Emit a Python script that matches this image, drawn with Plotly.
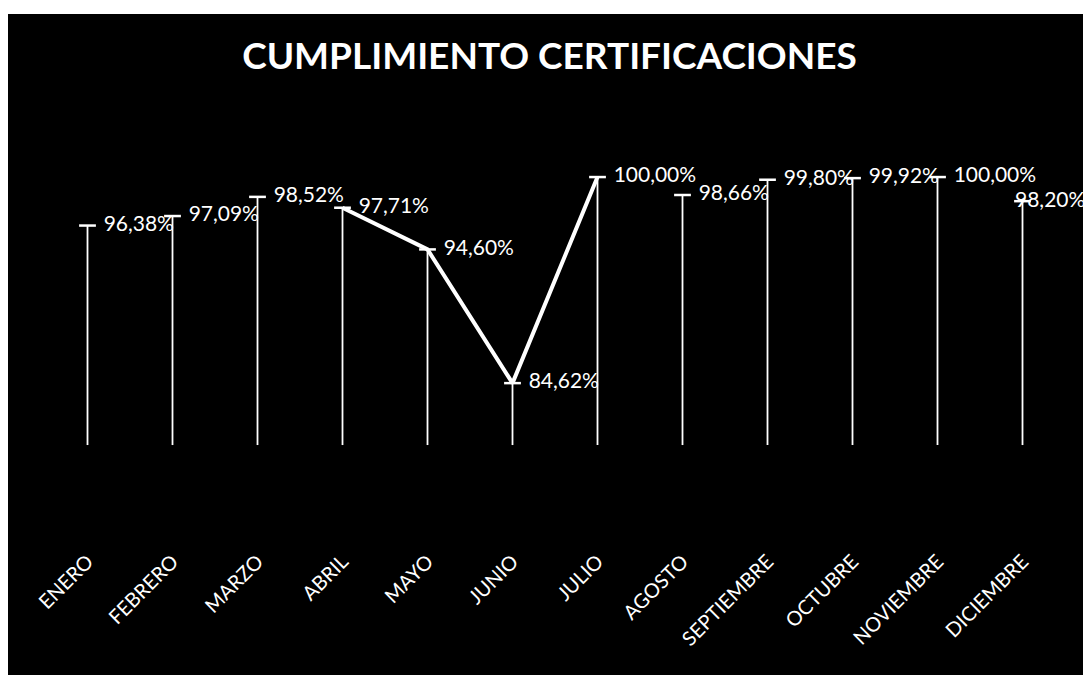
import plotly.graph_objects as go

months = ["ENERO", "FEBRERO", "MARZO", "ABRIL", "MAYO", "JUNIO", "JULIO",
          "AGOSTO", "SEPTIEMBRE", "OCTUBRE", "NOVIEMBRE", "DICIEMBRE"]
values = [96.38, 97.09, 98.52, 97.71, 94.60, 84.62, 100.00,
          98.66, 99.80, 99.92, 100.00, 98.20]
labels = ["96,38%", "97,09%", "98,52%", "97,71%", "94,60%", "84,62%", "100,00%",
          "98,66%", "99,80%", "99,92%", "100,00%", "98,20%"]

# visible segment of the line in the reference (ABRIL .. JULIO)
seg_months = months[3:7]
seg_values = values[3:7]

DROP_FLOOR = 80.0
FONT = "Lato"
LABEL_SIZE = 21

fig = go.Figure()

# drop lines from each point downwards
fig.add_trace(go.Scatter(
    x=months, y=values, mode="markers",
    marker=dict(symbol="line-ew", size=12, color="white",
                line=dict(color="white", width=2.5)),
    error_y=dict(type="data", symmetric=False,
                 array=[0] * len(values),
                 arrayminus=[v - DROP_FLOOR for v in values],
                 color="white", thickness=1.8, width=0),
    hoverinfo="skip", showlegend=False,
))

# visible line segment
fig.add_trace(go.Scatter(
    x=seg_months, y=seg_values, mode="lines",
    line=dict(color="white", width=4),
    showlegend=False,
))

# data labels (last one is placed as an annotation so it stays inside the chart)
fig.add_trace(go.Scatter(
    x=months[:-1], y=values[:-1], mode="text", text=labels[:-1],
    texttemplate="   %{text}",
    textposition="middle right",
    textfont=dict(family=FONT, size=LABEL_SIZE, color="white"),
    showlegend=False, cliponaxis=False,
))
fig.add_annotation(
    x=months[-1], y=values[-1], text=labels[-1], showarrow=False,
    xanchor="center", yanchor="middle", xshift=27, yshift=3,
    font=dict(family=FONT, size=LABEL_SIZE, color="white"),
)

W, H = 1083, 667
L, T, PW, PH = 37, 92, 1020, 445
fig.add_shape(type="rect", xref="paper", yref="paper", layer="below",
              x0=(-20 - L) / PW, x1=(W + 20 - L) / PW,
              y0=(T + PH - H - 20) / PH, y1=(T + PH - 6) / PH,
              fillcolor="black", line=dict(width=0))

fig.update_layout(
    width=W, height=H,
    paper_bgcolor="white", plot_bgcolor="rgba(0,0,0,0)",
    margin=dict(l=L, r=W - L - PW, t=T, b=H - T - PH),
    title=dict(text="<b>CUMPLIMIENTO CERTIFICACIONES</b>",
               x=0.5, xref="container", xanchor="center",
               y=1 - 48 / H, yref="container", yanchor="middle",
               font=dict(family=FONT, size=37, color="white")),
    xaxis=dict(type="category", categoryorder="array", categoryarray=months,
               range=[-0.5, 11.5], showgrid=False, zeroline=False,
               showline=False, ticks="", tickangle=-45,
               tickfont=dict(family=FONT, size=20, color="white")),
    yaxis=dict(range=[72.54, 105.75], visible=False),
    showlegend=False,
)

fig.write_html("out.html")
